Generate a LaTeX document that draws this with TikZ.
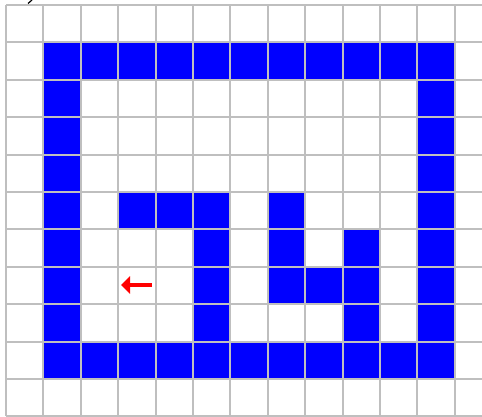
\documentclass[tikz,border=0pt]{standalone}
\usetikzlibrary{arrows.meta}
\begin{document}
\begin{tikzpicture}[x=1pt,y=-1pt,
  gridline/.style={draw=black!25,line width=2pt},
  wallcell/.style={fill=blue,draw=blue!60!gray,line width=0.8pt},
  marker/.style={draw=red,line width=4.5pt,-{Triangle[length=9pt,width=17pt]}}]
\useasboundingbox (0,0) rectangle (482,417);
\clip (0,0) rectangle (482,417);
\fill[white] (0,0) rectangle (482,417);
\def\cs{37.4}
\def\ox{6}
\def\oy{5}
% wall cells: col/row
\foreach \c/\r in {1/1,2/1,3/1,4/1,5/1,6/1,7/1,8/1,9/1,10/1,11/1,
  1/2,11/2,1/3,11/3,1/4,11/4,
  1/5,3/5,4/5,5/5,7/5,11/5,
  1/6,5/6,7/6,9/6,11/6,
  1/7,5/7,7/7,8/7,9/7,11/7,
  1/8,5/8,9/8,11/8,
  1/9,2/9,3/9,4/9,5/9,6/9,7/9,8/9,9/9,10/9,11/9}
  \path[wallcell] ({\ox+\c*\cs},{\oy+\r*\cs}) rectangle ({\ox+(\c+1)*\cs},{\oy+(\r+1)*\cs});
% grid
\foreach \i in {0,...,13}
  \draw[gridline] ({\ox+\i*\cs},{\oy}) -- ({\ox+\i*\cs},{\oy+11*\cs});
\foreach \j in {0,...,11}
  \draw[gridline] ({\ox},{\oy+\j*\cs}) -- ({\ox+13*\cs},{\oy+\j*\cs});
% red arrow
\coordinate (as) at (152,285);
\coordinate (ae) at (121,285);
\draw[marker] (as) -- (ae);
% cropped mark at top
\draw[black,line width=1.2pt] (28,3.5) -- (32,0);
\end{tikzpicture}
\end{document}
